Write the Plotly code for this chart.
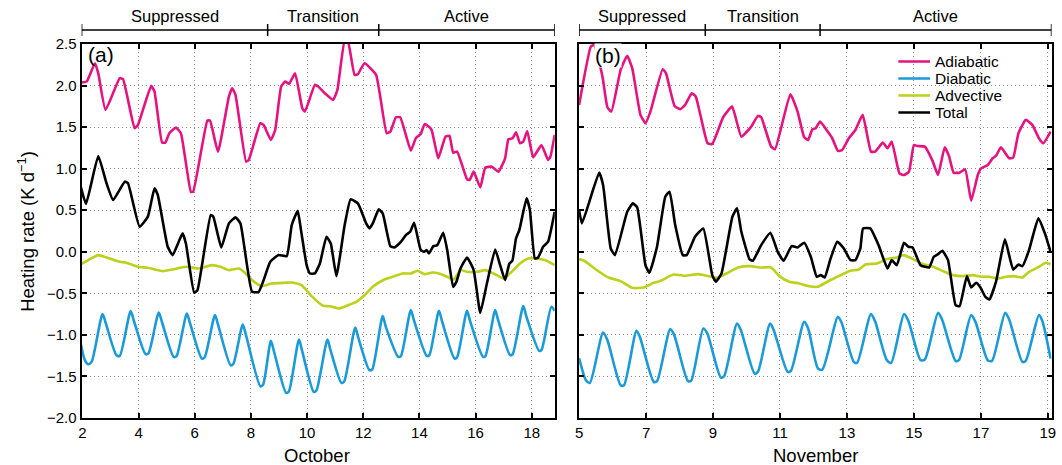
import plotly.graph_objects as go

# ---------------- data (day of month, heating rate K/day) ----------------
# Panel (a): October
a_adi_x = [1.937, 2.149, 2.444, 2.561, 2.820, 3.327, 3.445, 3.857, 3.975, 4.446, 4.564, 4.835, 4.952, 5.094, 5.329, 5.506,
           5.859, 5.942, 6.448, 6.542, 6.825, 7.214, 7.332, 7.449, 7.826, 7.921, 8.333, 8.451, 8.710, 8.863, 9.075, 9.216,
           9.358, 9.570, 9.829, 9.923, 10.276, 10.395, 10.630, 10.925, 11.078, 11.337, 11.455, 11.690, 11.808, 12.044,
           12.456, 12.833, 12.963, 13.163, 13.316, 13.693, 13.870, 14.046, 14.188, 14.423, 14.670, 14.930, 15.071, 15.200,
           15.342, 15.695, 15.789, 15.931, 16.166, 16.343, 16.579, 16.814, 17.050, 17.168, 17.321, 17.439, 17.580, 17.698,
           17.839, 18.051, 18.345, 18.581, 18.664, 18.817]
a_adi_y = [2.036, 2.048, 2.269, 2.149, 1.707, 2.089, 2.077, 1.486, 1.526, 1.996, 1.928, 1.314, 1.314, 1.426, 1.494, 1.426,
           0.723, 0.723, 1.579, 1.579, 1.205, 1.868, 1.968, 1.888, 1.085, 1.105, 1.547, 1.526, 1.346, 1.466, 1.988, 2.048,
           2.020, 2.149, 1.727, 1.687, 2.008, 1.988, 1.908, 1.828, 1.948, 2.540, 2.530, 2.129, 2.137, 2.269,
           2.129, 1.426, 1.446, 1.619, 1.619, 1.217, 1.366, 1.418, 1.538, 1.474, 1.125, 1.386, 1.394, 1.193,
           1.205, 0.872, 0.864, 0.964, 0.775, 1.012, 1.024, 0.964, 1.125, 1.354, 1.366, 1.438, 1.306, 1.326,
           1.454, 1.137, 1.285, 1.105, 1.145, 1.406]

a_dia_x = [1.937, 2.08, 2.208, 2.326, 2.715, 2.83, 3.209, 3.327, 3.716, 3.83, 4.246, 4.35, 4.717, 4.83, 5.247, 5.35,
           5.718, 5.83, 6.248, 6.35, 6.719, 6.83, 7.273, 7.37, 7.709, 7.82, 8.333, 8.43, 8.710, 8.82, 9.252, 9.35,
           9.711, 9.82, 10.235, 10.33, 10.725, 10.83, 11.219, 11.32, 11.714, 11.82, 12.221, 12.32, 12.692, 12.80,
           13.245, 13.34, 13.693, 13.80, 14.258, 14.35, 14.694, 14.80, 15.248, 15.34, 15.695, 15.80, 16.261, 16.35,
           16.697, 16.80, 17.227, 17.32, 17.698, 17.80, 18.263, 18.35, 18.699, 18.817]
a_dia_y = [-1.104, -1.300, -1.353, -1.324, -0.750, -0.860, -1.244, -1.252, -0.714, -0.830, -1.232, -1.222, -0.730, -0.845, -1.264, -1.255,
           -0.742, -0.860, -1.284, -1.272, -0.762, -0.880, -1.365, -1.350, -0.875, -1.000, -1.618, -1.600, -1.071, -1.200, -1.698, -1.680,
           -1.055, -1.190, -1.686, -1.670, -1.055, -1.180, -1.577, -1.560, -0.911, -1.030, -1.425, -1.415, -0.774, -0.900,
           -1.264, -1.255, -0.702, -0.820, -1.252, -1.245, -0.710, -0.830, -1.284, -1.270, -0.710, -0.830, -1.264, -1.255,
           -0.702, -0.820, -1.244, -1.232, -0.654, -0.770, -1.192, -1.180, -0.662, -0.710]

a_adv_x = [1.937, 2.561, 2.856, 3.327, 3.563, 3.975, 4.328, 4.858, 5.212, 5.683, 6.154, 6.601, 6.920, 7.214, 7.567, 7.744,
           8.038, 8.392, 8.745, 9.216, 9.452, 9.805, 10.159, 10.572, 10.807, 11.125, 11.455, 11.749, 12.044, 12.338,
           12.750, 13.045, 13.398, 13.693, 13.928, 14.164, 14.458, 14.694, 14.989, 15.224, 15.460, 15.695, 16.049,
           16.343, 16.638, 16.991, 17.285, 17.580, 17.874, 18.169, 18.463, 18.817]
a_adv_y = [-0.153, -0.040, -0.068, -0.120, -0.132, -0.181, -0.193, -0.233, -0.213, -0.181, -0.201, -0.161, -0.181, -0.221, -0.201, -0.241,
           -0.341, -0.414, -0.381, -0.373, -0.369, -0.402, -0.534, -0.650, -0.655, -0.683, -0.643, -0.602, -0.522, -0.422,
           -0.333, -0.301, -0.261, -0.261, -0.229, -0.269, -0.249, -0.261, -0.301, -0.333, -0.221, -0.241, -0.241,
           -0.221, -0.261, -0.321, -0.241, -0.141, -0.080, -0.080, -0.100, -0.161]

a_tot_x = [1.937, 2.126, 2.561, 2.856, 3.091, 3.504, 3.621, 4.034, 4.328, 4.564, 4.682, 5.035, 5.212, 5.565, 5.683, 5.977,
           6.095, 6.566, 6.660, 6.943, 7.214, 7.449, 7.626, 8.038, 8.274, 8.451, 8.686, 8.981, 9.275, 9.452, 9.664,
           9.782, 9.983, 10.100, 10.277, 10.454, 10.689, 10.843, 11.043, 11.337, 11.549, 11.808, 12.103, 12.221, 12.338,
           12.550, 12.692, 12.963, 13.104, 13.340, 13.516, 13.669, 13.811, 14.046, 14.164, 14.258, 14.341, 14.494,
           14.635, 14.847, 14.989, 15.200, 15.318, 15.460, 15.695, 15.931, 16.166, 16.402, 16.697, 16.873, 17.050,
           17.203, 17.309, 17.439, 17.557, 17.815, 17.933, 18.110, 18.228, 18.404, 18.581, 18.817]
a_tot_y = [0.783, 0.575, 1.153, 0.824, 0.623, 0.844, 0.824, 0.301, 0.422, 0.763, 0.683, 0.060, -0.040, 0.221, 0.100, -0.494,
           -0.462, 0.442, 0.422, 0.052, 0.341, 0.414, 0.341, -0.482, -0.482, -0.341, -0.120, -0.040, -0.052, 0.321, 0.494,
           0.261, -0.161, -0.261, -0.261, -0.141, 0.181, 0.100, -0.293, 0.321, 0.631, 0.582, 0.341, 0.281, 0.341,
           0.510, 0.462, 0.068, 0.052, 0.120, 0.201, 0.241, 0.349, 0.020, 0.000, 0.020, -0.020, 0.068,
           0.080, 0.229, 0.020, -0.422, -0.361, -0.201, -0.068, -0.221, -0.735, -0.381, 0.028, -0.161, -0.341,
           -0.141, -0.108, 0.161, 0.261, 0.643, 0.502, -0.080, -0.068, 0.060, 0.121, 0.482]

# Panel (b): November
b_adi_x = [5.0, 5.352, 5.451, 5.698, 5.846, 5.964, 6.241, 6.438, 6.587, 6.833, 6.982, 7.130, 7.495, 7.594, 7.851, 8.019,
           8.167, 8.364, 8.483, 8.611, 8.838, 8.977, 9.303, 9.569, 9.846, 10.142, 10.340, 10.438, 10.735, 10.853, 11.308,
           11.525, 11.722, 11.841, 11.968, 12.067, 12.196, 12.393, 12.561, 12.729, 12.857, 13.055, 13.252, 13.470, 13.717,
           13.845, 14.072, 14.210, 14.339, 14.566, 14.704, 14.852, 15.000, 15.099, 15.326, 15.553, 15.721, 15.919, 16.047,
           16.186, 16.364, 16.531, 16.709, 16.907, 17.005, 17.203, 17.351, 17.450, 17.598, 17.845, 17.964, 18.122, 18.339,
           18.536, 18.734, 18.862, 19.080]
b_adi_y = [1.767, 2.470, 2.490, 2.109, 1.739, 1.687, 2.189, 2.358, 2.209, 1.647, 1.547, 1.687, 2.197, 2.149, 1.755, 1.715,
           1.767, 1.908, 1.868, 1.667, 1.305, 1.297, 1.619, 1.747, 1.386, 1.506, 1.635, 1.619, 1.265, 1.233, 1.896,
           1.687, 1.378, 1.346, 1.474, 1.486, 1.567, 1.466, 1.366, 1.213, 1.225, 1.366, 1.466, 1.647, 1.205,
           1.205, 1.314, 1.245, 1.325, 0.944, 0.924, 0.964, 1.285, 1.273, 1.265, 1.097, 0.924, 1.257, 1.153,
           0.952, 0.952, 0.992, 0.615, 0.924, 1.004, 1.044, 1.125, 1.153, 1.257, 1.125, 1.133, 1.426, 1.587,
           1.526, 1.366, 1.305, 1.446]

b_dia_x = [5.0, 5.204, 5.322, 5.717, 5.846, 6.241, 6.340, 6.715, 6.814, 7.229, 7.327, 7.722, 7.841, 8.246, 8.345, 8.710,
           8.829, 9.233, 9.332, 9.717, 9.826, 10.241, 10.340, 10.705, 10.814, 11.229, 11.327, 11.722, 11.841, 12.136,
           12.265, 12.729, 12.838, 13.203, 13.302, 13.717, 13.845, 14.191, 14.319, 14.704, 14.833, 15.198, 15.326,
           15.722, 15.840, 16.245, 16.344, 16.709, 16.838, 17.203, 17.331, 17.726, 17.845, 18.240, 18.339, 18.734,
           18.833, 19.080]
b_dia_y = [-1.280, -1.545, -1.577, -0.971, -1.063, -1.606, -1.606, -0.951, -1.023, -1.565, -1.557, -0.931, -1.003, -1.553, -1.553, -0.923,
           -0.983, -1.513, -1.497, -0.863, -0.935, -1.465, -1.445, -0.863, -0.943, -1.445, -1.433, -0.843, -0.923, -1.405,
           -1.417, -0.782, -0.851, -1.324, -1.336, -0.750, -0.843, -1.304, -1.336, -0.750, -0.830, -1.304, -1.296,
           -0.734, -0.814, -1.312, -1.304, -0.762, -0.843, -1.304, -1.312, -0.734, -0.814, -1.324, -1.312, -0.762,
           -0.830, -1.284]

b_adv_x = [5.0, 5.154, 5.500, 5.895, 6.241, 6.587, 6.932, 7.229, 7.426, 7.821, 8.167, 8.562, 8.858, 9.105, 9.401, 9.747,
           10.093, 10.438, 10.735, 10.982, 11.278, 11.574, 11.870, 12.117, 12.413, 12.709, 13.104, 13.351, 13.549, 13.894,
           14.191, 14.487, 14.704, 14.931, 15.228, 15.573, 15.870, 16.166, 16.462, 16.759, 17.005, 17.252, 17.499, 17.746,
           17.993, 18.240, 18.438, 18.734, 18.931, 19.080]
b_adv_y = [-0.088, -0.108, -0.213, -0.313, -0.353, -0.434, -0.430, -0.373, -0.353, -0.273, -0.289, -0.269, -0.293, -0.313, -0.261, -0.189,
           -0.173, -0.189, -0.189, -0.293, -0.361, -0.381, -0.414, -0.422, -0.361, -0.301, -0.229, -0.213, -0.153, -0.141,
           -0.088, -0.068, -0.040, -0.080, -0.141, -0.181, -0.233, -0.281, -0.293, -0.281, -0.301, -0.301, -0.321, -0.301,
           -0.293, -0.309, -0.241, -0.181, -0.133, -0.149]

b_tot_x = [5.0, 5.085, 5.599, 5.717, 5.945, 6.073, 6.438, 6.606, 6.735, 6.982, 7.100, 7.327, 7.574, 7.703, 7.871, 8.098,
           8.216, 8.463, 8.710, 8.977, 9.085, 9.253, 9.579, 9.717, 9.846, 10.093, 10.191, 10.438, 10.715, 10.932, 11.110,
           11.347, 11.525, 11.722, 11.920, 12.098, 12.215, 12.334, 12.512, 12.709, 12.907, 13.104, 13.252, 13.400, 13.480,
           13.697, 13.944, 14.210, 14.339, 14.487, 14.704, 14.833, 14.961, 15.198, 15.455, 15.593, 15.722, 15.850, 16.018,
           16.245, 16.364, 16.581, 16.709, 16.857, 16.986, 17.134, 17.252, 17.450, 17.717, 17.963, 18.122, 18.240, 18.438,
           18.714, 18.911, 19.080]
b_tot_y = [0.502, 0.342, 0.952, 0.803, 0.040, -0.040, 0.482, 0.582, 0.534, -0.161, -0.253, 0.060, 0.663, 0.723, 0.321, -0.040,
           -0.040, 0.181, 0.281, -0.281, -0.361, -0.261, 0.422, 0.522, 0.241, -0.092, -0.108, 0.080, 0.229, 0.000, -0.108,
           0.068, 0.052, 0.108, -0.060, -0.301, -0.281, -0.309, -0.080, 0.121, 0.040, -0.100, -0.100, 0.040, 0.281,
           0.281, 0.080, -0.201, -0.100, -0.161, 0.108, 0.060, 0.052, -0.161, -0.189, -0.060, -0.028, 0.012, -0.100,
           -0.643, -0.655, -0.293, -0.430, -0.373, -0.430, -0.542, -0.574, -0.361, 0.149, -0.213, -0.153, -0.173, 0.020,
           0.402, 0.221, 0.000]

series_names = ["Adiabatic", "Diabatic", "Advective", "Total"]
series_colors = ["#E5137F", "#1B9AD7", "#BCD11C", "#000000"]
series_smooth = [0.4, 0.7, 0.5, 0.4]

y_ticks = [-2.0, -1.5, -1.0, -0.5, 0.0, 0.5, 1.0, 1.5, 2.0, 2.5]
a_ticks = [2, 4, 6, 8, 10, 12, 14, 16, 18]
b_ticks = [5, 7, 9, 11, 13, 15, 17, 19]

# phases: (label, start, end)
a_phases = [("Suppressed", 1.97, 8.594), ("Transition", 8.594, 12.551), ("Active", 12.551, 18.82)]
b_phases = [("Suppressed", 5.0, 8.769), ("Transition", 8.769, 12.197), ("Active", 12.197, 19.11)]

# ---------------- figure ----------------
W, H = 1062, 465
MT, MB = 44, 47
PH = H - MT - MB

def py2paper(py):
    return (H - MB - py) / PH

fig = go.Figure()

panels = [
    ("x", "y", [a_adi_x, a_dia_x, a_adv_x, a_tot_x], [a_adi_y, a_dia_y, a_adv_y, a_tot_y]),
    ("x2", "y2", [b_adi_x, b_dia_x, b_adv_x, b_tot_x], [b_adi_y, b_dia_y, b_adv_y, b_tot_y]),
]
for xa, ya, xs, ys in panels:
    for name, col, sm, xv, yv in zip(series_names, series_colors, series_smooth, xs, ys):
        fig.add_trace(go.Scatter(x=xv, y=yv, mode="lines", name=name, xaxis=xa, yaxis=ya,
                                 line=dict(color=col, width=2.6, shape="spline", smoothing=sm),
                                 showlegend=False))

FONT = "Liberation Sans, Arial, Helvetica, sans-serif"
axis_common = dict(showline=True, linecolor="black", linewidth=2, mirror="ticks", ticks="inside",
                   ticklen=5, tickwidth=1.5, tickcolor="black", showgrid=True, gridcolor="#8c8c8c",
                   griddash="1px,3px", gridwidth=1.2, zeroline=False,
                   tickfont=dict(family=FONT, size=15, color="black"))

fig.update_layout(
    width=W, height=H, margin=dict(l=0, r=0, t=MT, b=MB),
    paper_bgcolor="white", plot_bgcolor="white", showlegend=False,
    font=dict(family=FONT, color="black"),
    xaxis=dict(domain=[78.3 / W, 555.5 / W], range=[1.97, 18.82], tickvals=a_ticks, anchor="y", **axis_common),
    yaxis=dict(domain=[0, 1], range=[-2.0, 2.5], tickvals=y_ticks, tickformat=".1f", anchor="x", **axis_common),
    xaxis2=dict(domain=[580 / W, 1056.5 / W], range=[5.0, 19.11], tickvals=b_ticks, anchor="y2", **axis_common),
    yaxis2=dict(domain=[0, 1], range=[-2.0, 2.5], tickvals=y_ticks, showticklabels=False, anchor="x2", **axis_common),
)

# phase brackets above each panel
yb = py2paper(30)
yb_lo = py2paper(36)
yb_hi = py2paper(24)
for xref, phases in (("x", a_phases), ("x2", b_phases)):
    x0 = phases[0][1]
    x1 = phases[-1][2]
    fig.add_shape(type="line", xref=xref, yref="paper", x0=x0, x1=x1, y0=yb, y1=yb,
                  line=dict(color="black", width=1.5))
    edges = [p[1] for p in phases] + [x1]
    for e in edges:
        fig.add_shape(type="line", xref=xref, yref="paper", x0=e, x1=e, y0=yb_lo, y1=yb_hi,
                      line=dict(color="black", width=1.5))
    for label, s, e in phases:
        fig.add_annotation(x=(s + e) / 2, y=py2paper(16), xref=xref, yref="paper", text=label,
                           showarrow=False, font=dict(size=16.5, family=FONT), xanchor="center", yanchor="middle")

# panel labels
fig.add_annotation(x=83 / W, y=py2paper(54), xref="paper", yref="paper", text="(a)", showarrow=False,
                   font=dict(size=21, family=FONT), xanchor="left", yanchor="middle")
fig.add_annotation(x=595 / W, y=py2paper(55), xref="paper", yref="paper", text="(b)", showarrow=False,
                   font=dict(size=21, family=FONT), xanchor="left", yanchor="middle", bgcolor="white",
                   borderpad=0)

# axis titles
fig.add_annotation(x=22 / W, y=py2paper(231), xref="paper", yref="paper",
                   text="Heating rate (K d<sup>−1</sup>)", textangle=-90, showarrow=False,
                   font=dict(size=18.5, family=FONT), xanchor="center", yanchor="middle")
fig.add_annotation(x=316 / W, y=py2paper(455), xref="paper", yref="paper", text="October", showarrow=False,
                   font=dict(size=18.5, family=FONT), xanchor="center", yanchor="middle")
fig.add_annotation(x=818 / W, y=py2paper(455), xref="paper", yref="paper", text="November", showarrow=False,
                   font=dict(size=18.5, family=FONT), xanchor="center", yanchor="middle")

# legend (drawn in panel b)
leg_y = [61.5, 78.5, 95.5, 112.5]
for name, col, ly in zip(series_names, series_colors, leg_y):
    fig.add_shape(type="line", xref="paper", yref="paper", x0=902 / W, x1=934 / W,
                  y0=py2paper(ly), y1=py2paper(ly), line=dict(color=col, width=2.6))
    fig.add_annotation(x=938 / W, y=py2paper(ly), xref="paper", yref="paper", text=name, showarrow=False,
                       font=dict(size=15.5, family=FONT), xanchor="left", yanchor="middle", borderpad=0)

fig.write_html("out.html")
